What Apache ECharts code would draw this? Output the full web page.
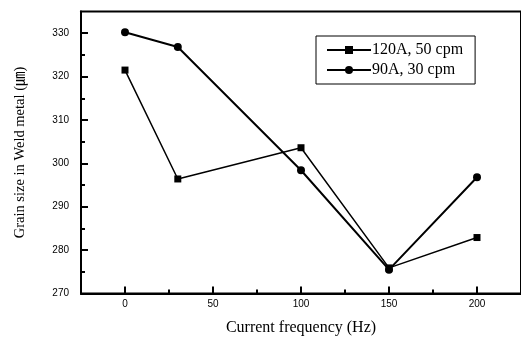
<!DOCTYPE html>
<html><head><meta charset="utf-8">
<script src="https://cdn.jsdelivr.net/npm/echarts@6/dist/echarts.min.js"></script>
<style>html,body{margin:0;padding:0;background:#fff}#c{width:521px;height:341px}</style>
</head><body><div id="c"></div>
<script>
const frequencies = [0, 30, 100, 150, 200];
const series120A = [321.5, 296.4, 303.6, 275.9, 282.9];
const series90A = [330.2, 326.8, 298.4, 275.5, 296.8];
const seriesNames = ['120A, 50 cpm', '90A, 30 cpm'];
const xMajorTicks = [0, 50, 100, 150, 200];
const xMinorTicks = [25, 75, 125, 175];
const yMajorTicks = [270, 280, 290, 300, 310, 320, 330];
const yMinorTicks = [275, 285, 295, 305, 315, 325];

const serif = '"Liberation Serif", "Times New Roman", serif';
const sans = '"Liberation Sans", Arial, sans-serif';
const chart = echarts.init(document.getElementById('c'), null, {renderer: 'canvas'});
const pair = (xs, ys) => xs.map((x, i) => [x, ys[i]]);
const grid = {left: 81, top: 11.5, width: 448, height: 282};
chart.setOption({
  animation: false,
  backgroundColor: '#fff',
  grid: Object.assign({show: true, borderColor: '#000', borderWidth: 2, backgroundColor: 'transparent'}, grid),
  legend: {
    orient: 'vertical', left: 316, top: 36, width: 161,
    padding: [6, 12, 6, 10], itemGap: 4,
    itemWidth: 44, itemHeight: 10,
    borderColor: '#000', borderWidth: 1,
    textStyle: {fontFamily: serif, fontSize: 16, color: '#000', padding: [0, 0, 0, -4]},
    data: seriesNames
  },
  xAxis: [{
    type: 'value', min: -25, max: 225,
    name: 'Current frequency (Hz)', nameLocation: 'middle', nameGap: 26,
    nameTextStyle: {fontFamily: serif, fontSize: 16, color: '#000'},
    axisLine: {show: true, onZero: false, lineStyle: {color: '#000', width: 2}},
    axisTick: {show: true, inside: true, length: 7, customValues: xMajorTicks, lineStyle: {color: '#000', width: 2}},
    axisLabel: {customValues: xMajorTicks, margin: 6, fontFamily: sans, fontSize: 10, color: '#000'},
    splitLine: {show: false}
  }, {
    type: 'value', min: -25, max: 225, position: 'bottom', gridIndex: 0,
    axisLine: {show: false, onZero: false},
    axisTick: {show: true, inside: true, length: 4, customValues: xMinorTicks, lineStyle: {color: '#000', width: 2}},
    axisLabel: {show: false},
    splitLine: {show: false}
  }],
  yAxis: [{
    type: 'value', min: 270, max: 335,
    name: 'Grain size in Weld metal (㎛)', nameLocation: 'middle', nameGap: 54, nameRotate: 90,
    nameTextStyle: {fontFamily: serif + ', "Noto Sans CJK KR"', fontSize: 14.5, color: '#000'},
    axisLine: {show: true, onZero: false, lineStyle: {color: '#000', width: 2}},
    axisTick: {show: true, inside: true, length: 7, customValues: yMajorTicks, lineStyle: {color: '#000', width: 2}},
    axisLabel: {customValues: yMajorTicks, margin: 12, fontFamily: sans, fontSize: 10, color: '#000'},
    splitLine: {show: false}
  }, {
    type: 'value', min: 270, max: 335, position: 'left',
    axisLine: {show: false, onZero: false},
    axisTick: {show: true, inside: true, length: 4, customValues: yMinorTicks, lineStyle: {color: '#000', width: 2}},
    axisLabel: {show: false},
    splitLine: {show: false}
  }],
  series: [{
    name: seriesNames[0], type: 'line', data: pair(frequencies, series120A),
    symbol: 'rect', symbolSize: 7, color: '#000',
    lineStyle: {color: '#000', width: 1.5}, itemStyle: {color: '#000'}
  }, {
    name: seriesNames[1], type: 'line', data: pair(frequencies, series90A),
    symbol: 'circle', symbolSize: 8, color: '#000',
    lineStyle: {color: '#000', width: 2}, itemStyle: {color: '#000'}
  }]
});
</script></body></html>
